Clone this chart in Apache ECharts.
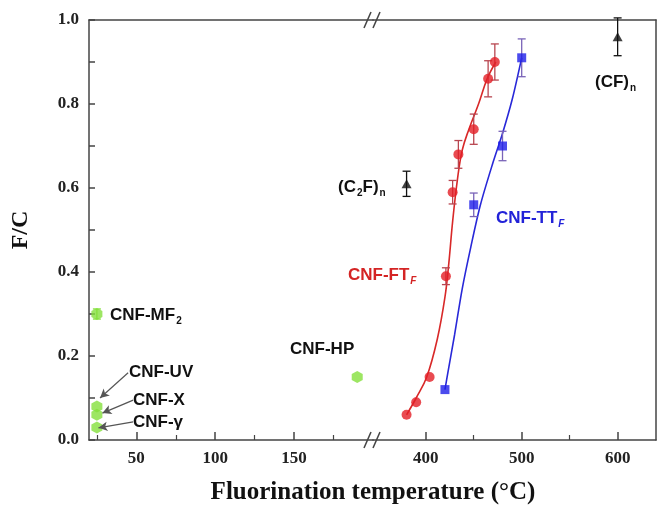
<!DOCTYPE html>
<html>
<head>
<meta charset="utf-8">
<script src="https://cdn.jsdelivr.net/npm/echarts@6/dist/echarts.min.js"></script>
<style>
  html, body { margin: 0; padding: 0; background: #fff; }
  #chart { width: 658px; height: 506px; }
</style>
</head>
<body>
<div id="chart"></div>
<script>
// CNF-FT_F (red)
const ftTemp = [380, 390, 404, 421, 428, 434, 450, 465, 472];
const ftFC = [0.06, 0.09, 0.15, 0.39, 0.59, 0.68, 0.74, 0.86, 0.90];
const ftErr = [0, 0, 0, 0.02, 0.028, 0.033, 0.036, 0.043, 0.043];
const ftFitTemp = [380, 390, 401, 412, 420, 424, 428, 433, 438, 445, 455, 464, 473];
const ftFitFC = [0.06, 0.10, 0.15, 0.24, 0.34, 0.42, 0.52, 0.62, 0.69, 0.74, 0.80, 0.86, 0.90];

// CNF-TT_F (blue)
const ttTemp = [420, 450, 480, 500];
const ttFC = [0.12, 0.56, 0.70, 0.91];
const ttErr = [0, 0.028, 0.035, 0.045];
const ttFitTemp = [420, 423, 430, 438, 447, 457, 470, 480, 490, 500];
const ttFitFC = [0.12, 0.16, 0.25, 0.36, 0.46, 0.56, 0.66, 0.73, 0.81, 0.91];

// reference graphite fluorides
const refTemp = [380, 600];
const refFC = [0.61, 0.96];
const refErr = [0.03, 0.045];

// other CNF samples (green)
const lowNames = ['CNF-MF2', 'CNF-UV', 'CNF-X', 'CNF-γ', 'CNF-HP'];
const lowTemp = [25, 25, 25, 25, 190];
const lowFC = [0.30, 0.08, 0.06, 0.03, 0.15];
const lowErr = [0.012, 0, 0, 0, 0];

// axis ticks
const leftMajor = [50, 100, 150];
const leftMinor = [25, 75, 125, 175];
const rightMajor = [400, 500, 600];
const rightMinor = [450, 550];
const yLabels = ['0.0', '0.2', '0.4', '0.6', '0.8', '1.0'];

const axisColor = '#444';
const serif = '"Liberation Serif", "Times New Roman", serif';
const sans = '"Liberation Sans", Arial, sans-serif';

const zip = (xs, ys, es) => xs.map((x, i) => es ? [x, ys[i], es[i]] : [x, ys[i]]);

const errBars = (color) => (params, api) => {
    const x = api.value(0), y = api.value(1), e = api.value(2);
    if (!e) return null;
    const top = api.coord([x, y + e]);
    const bot = api.coord([x, y - e]);
    const w = 4;
    const st = { stroke: color, lineWidth: 1.3 };
    return {
        type: 'group',
        children: [
            { type: 'line', shape: { x1: top[0], y1: top[1], x2: bot[0], y2: bot[1] }, style: st },
            { type: 'line', shape: { x1: top[0] - w, y1: top[1], x2: top[0] + w, y2: top[1] }, style: st },
            { type: 'line', shape: { x1: bot[0] - w, y1: bot[1], x2: bot[0] + w, y2: bot[1] }, style: st }
        ]
    };
};

const hexagon = 'path://M5,0 L10,2.9 L10,8.7 L5,11.6 L0,8.7 L0,2.9 Z';

const labelX = {
    fontFamily: serif, fontWeight: 'bold', fontSize: 17, color: '#222', margin: 10
};

const bottomAxis = (grid, min, max, major) => ({
    gridIndex: grid, type: 'value', min, max, position: 'bottom',
    axisLine: { show: true, onZero: false, lineStyle: { color: axisColor, width: 1.5 } },
    axisTick: { show: true, inside: true, length: 8, customValues: major, lineStyle: { color: axisColor, width: 1.5 } },
    axisLabel: Object.assign({ customValues: major }, labelX),
    splitLine: { show: false }
});
const minorAxis = (grid, min, max, minor) => ({
    gridIndex: grid, type: 'value', min, max, position: 'bottom',
    axisLine: { show: false },
    axisTick: { show: true, inside: true, length: 5, customValues: minor, lineStyle: { color: axisColor, width: 1.2 } },
    axisLabel: { show: false },
    splitLine: { show: false }
});
const topAxis = (grid, min, max) => ({
    gridIndex: grid, type: 'value', min, max, position: 'top',
    axisLine: { show: true, onZero: false, lineStyle: { color: axisColor, width: 1.5 } },
    axisTick: { show: false }, axisLabel: { show: false }, splitLine: { show: false }
});

const txt = (x, y, text, color, rich) => ({
    type: 'text', x, y,
    style: {
        text, fill: color || '#111', font: `bold 17px ${sans}`,
        textVerticalAlign: 'middle', rich: rich
    }
});
const sub = (color, italic) => ({
    a: { fontFamily: sans, fontWeight: 'bold', fontSize: 17, color, lineHeight: 20 },
    s: { fontFamily: sans, fontWeight: 'bold', fontSize: 10, color, fontStyle: italic ? 'italic' : 'normal', verticalAlign: 'bottom', padding: [12, 0, 0, 1] }
});

const breakMark = (y) => [
    { type: 'line', shape: { x1: 364, y1: y + 8, x2: 371, y2: y - 8 }, style: { stroke: axisColor, lineWidth: 1.5 } },
    { type: 'line', shape: { x1: 373, y1: y + 8, x2: 380, y2: y - 8 }, style: { stroke: axisColor, lineWidth: 1.5 } }
];

const option = {
    animation: false,
    grid: [
        { left: 89, top: 20, width: 284, height: 420 },
        { left: 373, top: 20, width: 283, height: 420 }
    ],
    xAxis: [
        bottomAxis(0, 20, 200, leftMajor),
        minorAxis(0, 20, 200, leftMinor),
        topAxis(0, 20, 200),
        bottomAxis(1, 345, 640, rightMajor),
        minorAxis(1, 345, 640, rightMinor),
        topAxis(1, 345, 640)
    ],
    yAxis: [
        {
            gridIndex: 0, type: 'value', min: 0, max: 1, interval: 0.1,
            name: 'F/C', nameLocation: 'middle', nameGap: 56,
            nameTextStyle: { fontFamily: serif, fontWeight: 'bold', fontSize: 24, color: '#111' },
            axisLine: { show: true, onZero: false, lineStyle: { color: axisColor, width: 1.5 } },
            axisTick: { show: true, inside: true, length: 6, lineStyle: { color: axisColor, width: 1.5 } },
            axisLabel: Object.assign({
                formatter: v => yLabels.includes(v.toFixed(1)) ? v.toFixed(1) : ''
            }, labelX),
            splitLine: { show: false }
        },
        {
            gridIndex: 1, type: 'value', min: 0, max: 1, position: 'right',
            axisLine: { show: true, onZero: false, lineStyle: { color: axisColor, width: 1.5 } },
            axisTick: { show: false }, axisLabel: { show: false }, splitLine: { show: false }
        }
    ],
    series: [
        {
            type: 'custom', xAxisIndex: 0, yAxisIndex: 0, renderItem: errBars('#84e03c'),
            data: zip(lowTemp, lowFC, lowErr), z: 2
        },
        {
            name: 'others', type: 'scatter', xAxisIndex: 0, yAxisIndex: 0,
            symbol: hexagon, symbolSize: [11, 12],
            itemStyle: { color: '#84e03c' },
            data: zip(lowTemp, lowFC), z: 3,
            markLine: {
                silent: true, symbol: ['none', 'arrow'], symbolSize: [7, 9],
                lineStyle: { color: '#555', width: 1.2, type: 'solid' },
                label: { show: false },
                data: [
                    [{ coord: [44.8, 0.16] }, { coord: [27, 0.10] }],
                    [{ coord: [48, 0.095] }, { coord: [28.5, 0.064] }],
                    [{ coord: [48, 0.043] }, { coord: [26, 0.029] }]
                ]
            }
        },
        {
            type: 'line', xAxisIndex: 3, yAxisIndex: 1, smooth: 0.4, showSymbol: false,
            lineStyle: { color: '#d82828', width: 1.6 }, data: zip(ftFitTemp, ftFitFC), z: 2
        },
        {
            type: 'custom', xAxisIndex: 3, yAxisIndex: 1, renderItem: errBars('#b84650'),
            data: zip(ftTemp, ftFC, ftErr), z: 3
        },
        {
            name: 'CNF-FT', type: 'scatter', xAxisIndex: 3, yAxisIndex: 1, symbol: 'circle', symbolSize: 10,
            itemStyle: { color: '#e41e26' }, data: zip(ftTemp, ftFC), z: 4
        },
        {
            type: 'line', xAxisIndex: 3, yAxisIndex: 1, smooth: 0.3, showSymbol: false,
            lineStyle: { color: '#2828d8', width: 1.6 }, data: zip(ttFitTemp, ttFitFC), z: 2
        },
        {
            type: 'custom', xAxisIndex: 3, yAxisIndex: 1, renderItem: errBars('#7a64b8'),
            data: zip(ttTemp, ttFC, ttErr), z: 3
        },
        {
            name: 'CNF-TT', type: 'scatter', xAxisIndex: 3, yAxisIndex: 1, symbol: 'rect', symbolSize: 9,
            itemStyle: { color: '#1e1ee8' }, data: zip(ttTemp, ttFC), z: 4
        },
        {
            type: 'custom', xAxisIndex: 3, yAxisIndex: 1, renderItem: errBars('#111'),
            data: zip(refTemp, refFC, refErr), z: 3
        },
        {
            name: 'ref', type: 'scatter', xAxisIndex: 3, yAxisIndex: 1, symbol: 'triangle', symbolSize: [10, 9],
            itemStyle: { color: '#111' }, data: zip(refTemp, refFC), z: 4
        }
    ],
    graphic: [
        ...breakMark(20),
        ...breakMark(440),
        txt(110, 315, '{a|CNF-MF}{s|2}', '#111', sub('#111')),
        txt(129, 372, 'CNF-UV'),
        txt(133, 400, 'CNF-X'),
        txt(133, 422, 'CNF-γ'),
        txt(290, 349, 'CNF-HP'),
        txt(338, 187, '{a|(C}{s|2}{a|F)}{s|n}', '#111', sub('#111')),
        txt(595, 82, '{a|(CF)}{s|n}', '#111', sub('#111')),
        txt(348, 275, '{a|CNF-FT}{s|F}', '#d42424', sub('#d42424', true)),
        txt(496, 218, '{a|CNF-TT}{s|F}', '#2222d8', sub('#2222d8', true)),
        {
            type: 'text', x: 373, y: 493,
            style: {
                text: 'Fluorination temperature (°C)', fill: '#111',
                font: `bold 25px ${serif}`, textAlign: 'center', textVerticalAlign: 'middle'
            }
        }
    ]
};

const chart = echarts.init(document.getElementById('chart'));
chart.setOption(option);
</script>
</body>
</html>
